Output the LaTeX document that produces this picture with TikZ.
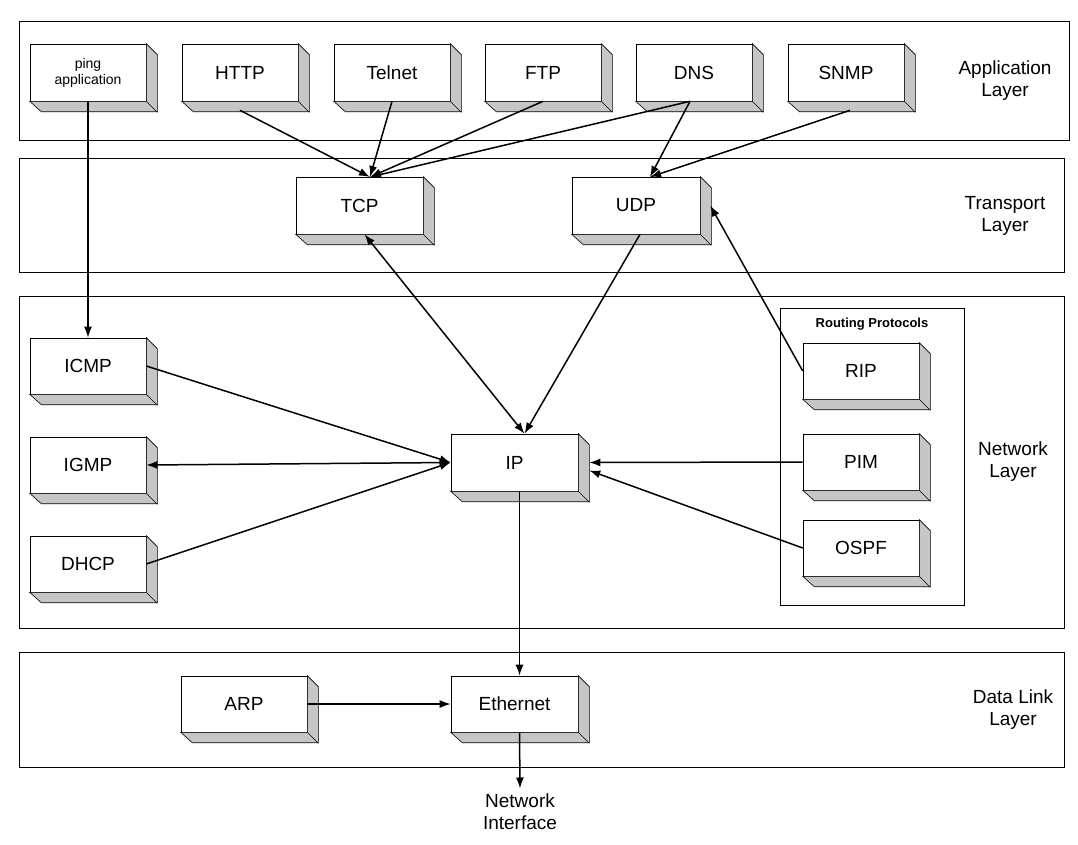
\documentclass[tikz,border=0pt]{standalone}
\usepackage{fontspec}
\setmainfont{Liberation Sans}
\usetikzlibrary{arrows.meta,calc}
\newcommand\bx[7]{%
 \node[box,minimum width=#4pt,minimum height=#5pt,font=#7] (#1) at (#2,#3) {#6};
 \filldraw[fill=gray!45,line width=0.6pt] (#1.north east) -- ++(11,11) -- ++(0,#5) -- ++(-#4,0) -- (#1.south west) -- (#1.south east) -- cycle;
 \draw[line width=0.6pt] (#1.south east) -- ++(11,11);
}
\begin{document}
\begin{tikzpicture}[x=1pt,y=-1pt,
 box/.style={draw,fill=white,line width=0.6pt,inner sep=0pt,align=center},
 layer/.style={draw,line width=0.6pt},
 arr/.style={line width=1.5pt,-{Latex[length=11pt,width=8pt]}},
 darr/.style={line width=1.5pt,{Latex[length=11pt,width=8pt]}-{Latex[length=11pt,width=8pt]}},
 lbl/.style={font=\fontsize{19}{22}\selectfont,align=center}]
\useasboundingbox (0,0) rectangle (1078,844);
\draw[layer] (19,21) rectangle (1069,140);
\draw[layer] (19,158) rectangle (1064,272);
\draw[layer] (19,296) rectangle (1064,628);
\draw[layer] (19,652) rectangle (1064,767);
\draw[layer] (780,308) rectangle (964,605);
\node[font=\bfseries\fontsize{13}{15}\selectfont] (rp) at (872,324) {Routing Protocols};
\node[lbl] (l1) at (1005,81) {Application\\Layer};
\node[lbl] (l2) at (1005,216) {Transport\\Layer};
\node[lbl] (l3) at (1013,462) {Network\\Layer};
\node[lbl] (l4) at (1013,710) {Data Link\\Layer};
\def\f{\fontsize{19}{22}\selectfont}
\bx{ping}{88}{72.5}{116}{57}{ping\\application}{\fontsize{14}{16}\selectfont}
\bx{HTTP}{240}{72.5}{116}{57}{HTTP}{\f}
\bx{Telnet}{392}{72.5}{116}{57}{Telnet}{\f}
\bx{FTP}{543}{72.5}{116}{57}{FTP}{\f}
\bx{DNS}{694}{72.5}{116}{57}{DNS}{\f}
\bx{SNMP}{846}{72.5}{116}{57}{SNMP}{\f}
\bx{TCP}{359.5}{205.5}{127}{57}{TCP}{\f}
\bx{UDP}{636}{205.5}{128}{57}{UDP}{\f}
\bx{ICMP}{88}{366}{116}{56}{ICMP}{\f}
\bx{IGMP}{88}{465}{116}{56}{IGMP}{\f}
\bx{DHCP}{88}{564}{116}{56}{DHCP}{\f}
\bx{IP}{514.5}{462.5}{127}{57}{IP}{\f}
\bx{RIP}{861}{371}{116}{56}{RIP}{\f}
\bx{PIM}{861}{462}{116}{56}{PIM}{\f}
\bx{OSPF}{861}{548}{116}{56}{OSPF}{\f}
\bx{ARP}{244}{704}{126}{56}{ARP}{\f}
\bx{Eth}{514.5}{704}{127}{56}{Ethernet}{\f}
\node[lbl] (ni) at (520,812) {Network\\Interface};
\coordinate (tcpin) at (370,177);
\coordinate (udpin) at (650,177);
\draw[arr] (ping.south) -- (ICMP.north);
\draw[arr] ($(HTTP.south)+(0,9)$) -- (tcpin);
\draw[arr] (Telnet.south) -- (tcpin);
\draw[arr] (FTP.south) -- (tcpin);
\draw[arr] ($(DNS.south)+(-4,0)$) -- (tcpin);
\draw[arr] ($(DNS.south)+(-4,0)$) -- (udpin);
\draw[arr] ($(SNMP.south)+(4,9)$) -- (udpin);
\draw[darr] ($(TCP.south)+(5,0)$) -- ($(IP.north)+(10,0)$);
\draw[arr] ($(UDP.south)+(4,0)$) -- ($(IP.north)+(10,0)$);
\draw[arr] (RIP.west) -- ($(UDP.east)+(10,0)$);
\draw[arr] (ICMP.east) -- (IP.west);
\draw[darr] (IGMP.east) -- (IP.west);
\draw[arr] (DHCP.east) -- (IP.west);
\draw[arr] (PIM.west) -- ($(IP.east)+(11,0)$);
\draw[arr] (OSPF.west) -- ($(IP.east)+(11,8)$);
\draw[arr] ($(IP.south)+(5,0)$) -- ($(Eth.north)+(5,0)$);
\draw[arr] (ARP.east) -- (Eth.west);
\draw[arr] ($(Eth.south)+(5,0)$) -- ($(ni.north)+(0,-2)$);
\end{tikzpicture}
\end{document}
